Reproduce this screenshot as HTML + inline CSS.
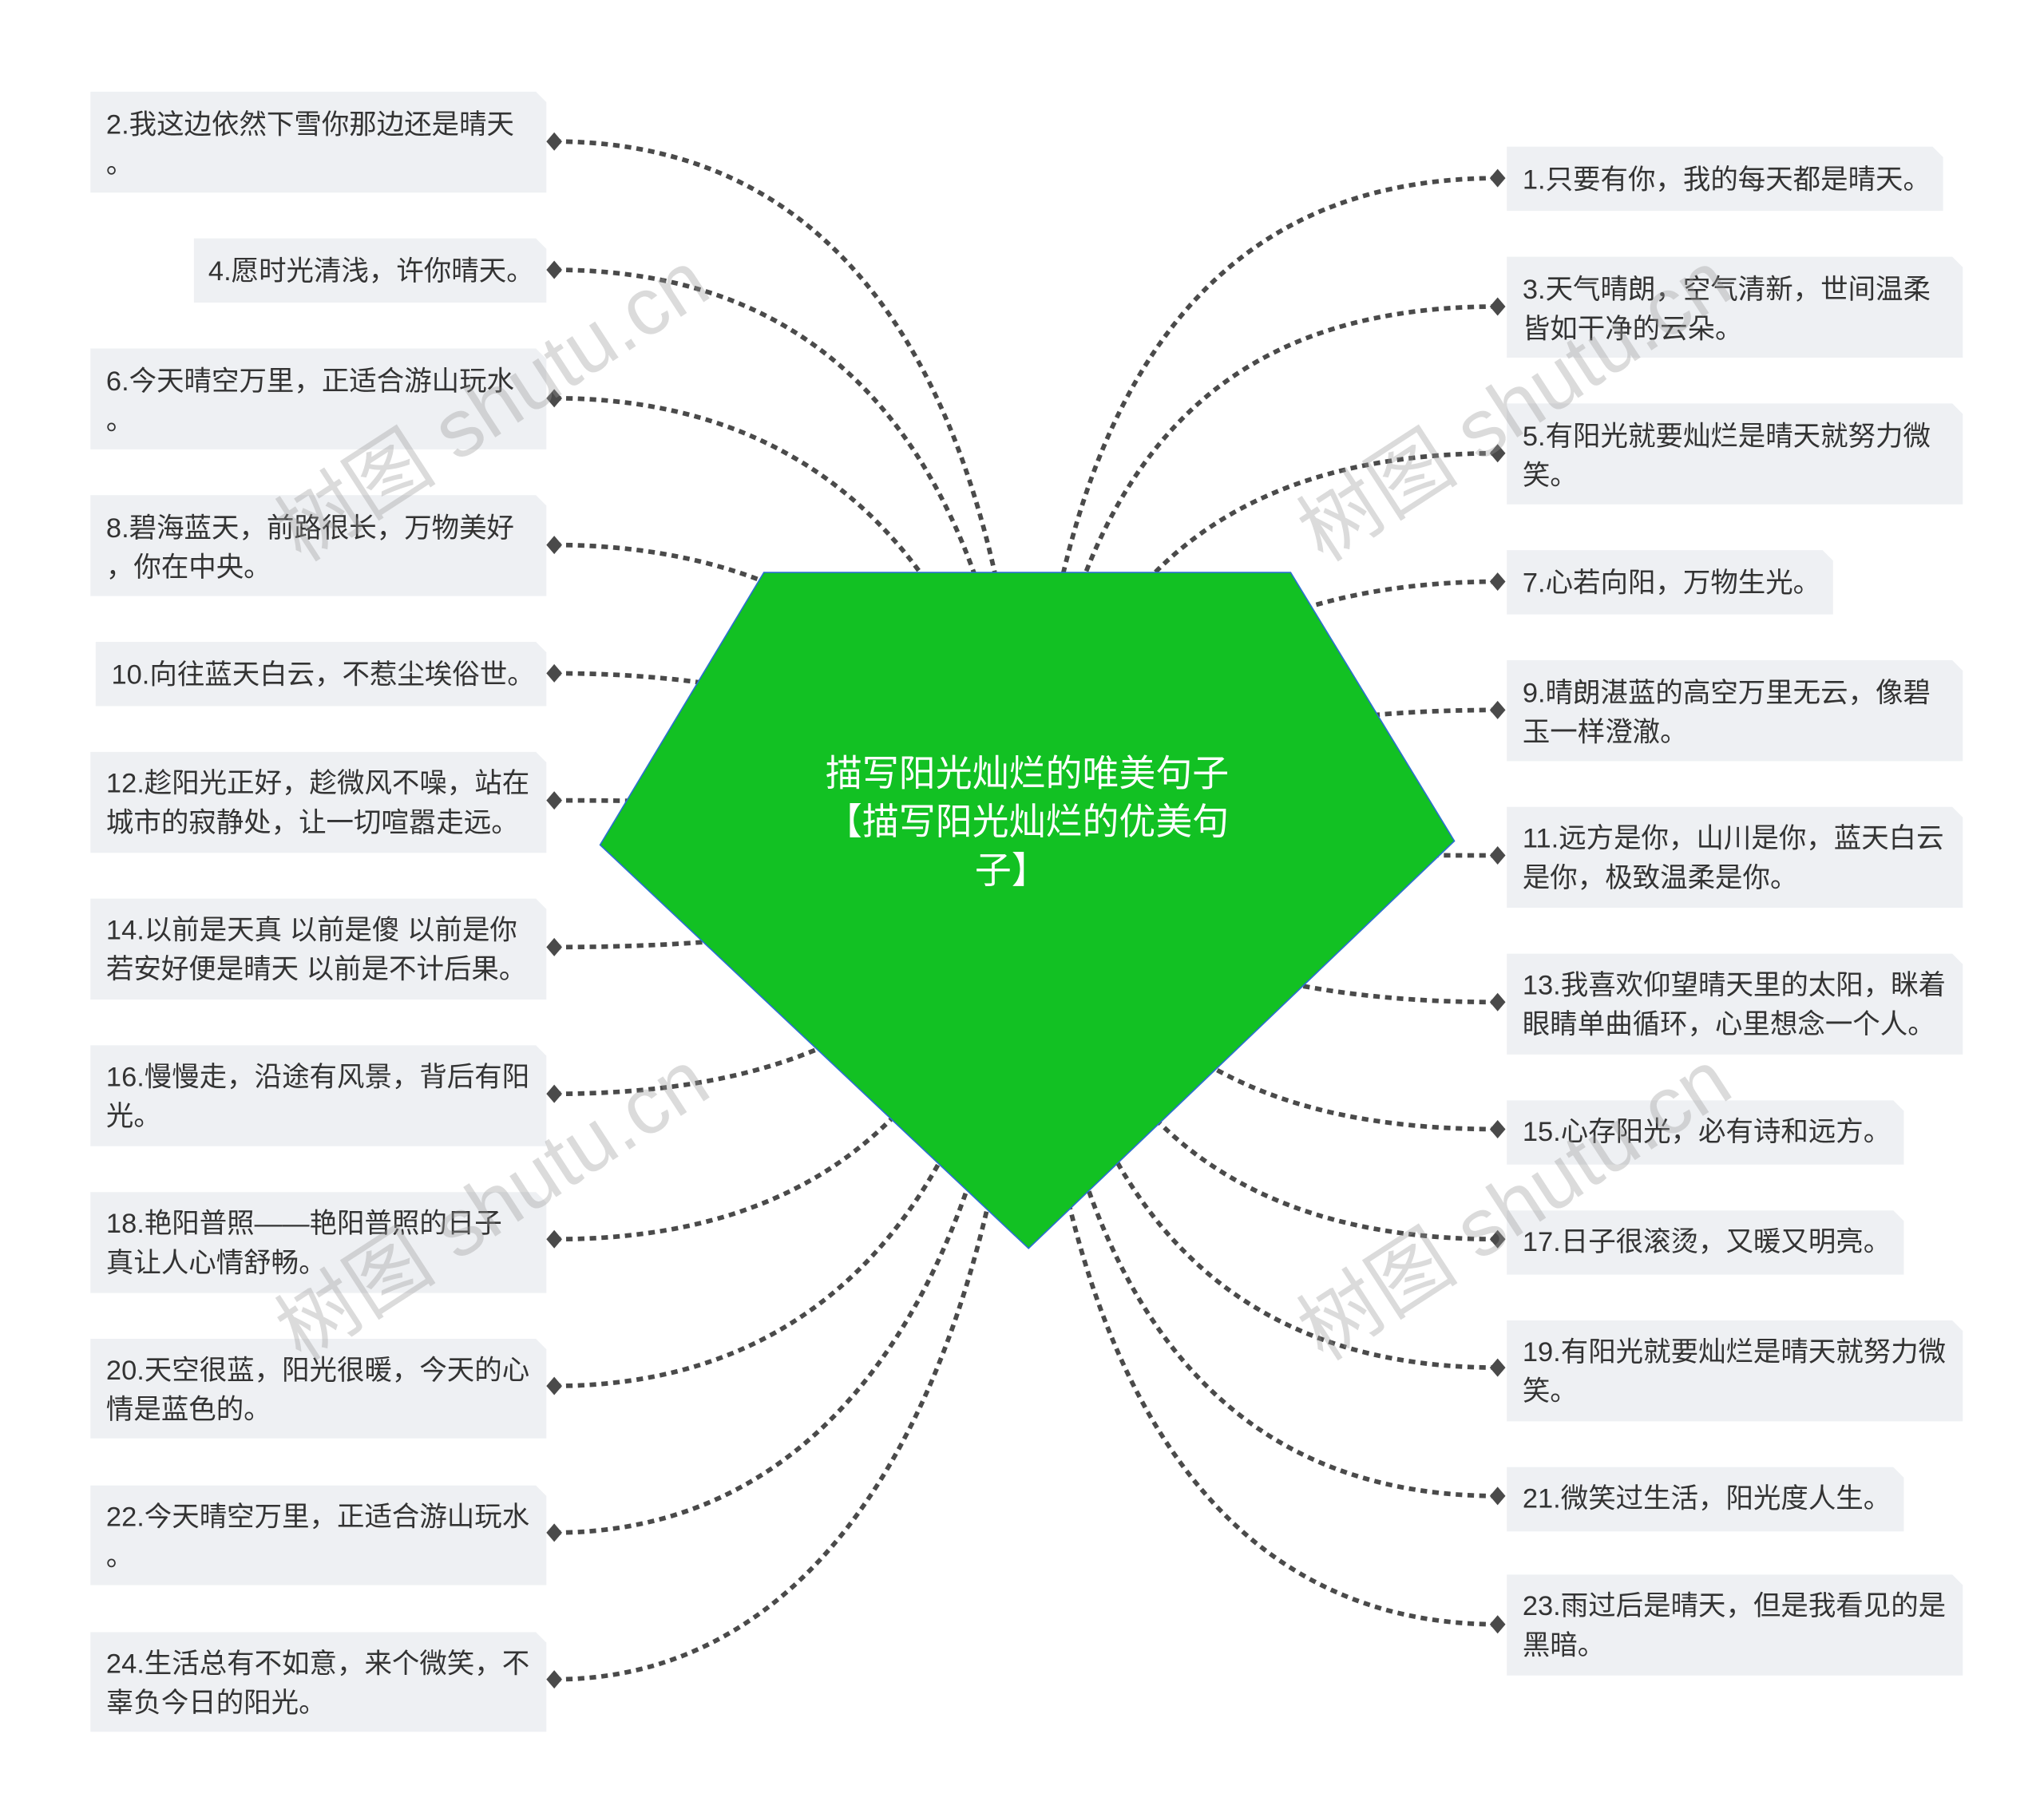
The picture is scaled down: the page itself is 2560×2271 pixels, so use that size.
<!DOCTYPE html>
<html><head><meta charset="utf-8"><style>
html,body{margin:0;padding:0;background:#fff}
svg{display:block}
text{font-family:"Liberation Sans","Noto Sans CJK SC",sans-serif}
</style></head><body>
<svg width="2560" height="2271" viewBox="0 0 1560 1384" preserveAspectRatio="none" xmlns="http://www.w3.org/2000/svg">
<g fill="none" stroke="#4a4a4a" stroke-width="3.5" stroke-dasharray="5 4">
<path d="M423 108 C650 108 770 300 785 645"/>
<path d="M423 206 C640 206 760 350 785 645"/>
<path d="M423 304 C640 304 750 450 785 645"/>
<path d="M423 416 C600 416 720 500 785 645"/>
<path d="M423 514 C600 514 720 560 785 645"/>
<path d="M423 611 C600 611 720 620 785 645"/>
<path d="M423 723 C600 723 720 700 785 645"/>
<path d="M423 835 C600 835 720 780 785 645"/>
<path d="M423 946 C630 946 740 840 785 645"/>
<path d="M423 1058 C640 1058 760 900 785 645"/>
<path d="M423 1170 C650 1170 770 950 785 645"/>
<path d="M423 1282 C660 1282 780 1000 785 645"/>
<path d="M1143 136 C920 136 800 300 785 645"/>
<path d="M1143 234 C930 234 810 350 785 645"/>
<path d="M1143 346 C930 346 820 450 785 645"/>
<path d="M1143 444 C960 444 850 520 785 645"/>
<path d="M1143 542 C960 542 850 580 785 645"/>
<path d="M1143 653 C960 653 850 650 785 645"/>
<path d="M1143 765 C960 765 850 720 785 645"/>
<path d="M1143 862 C960 862 850 800 785 645"/>
<path d="M1143 946 C930 946 820 840 785 645"/>
<path d="M1143 1044 C920 1044 810 900 785 645"/>
<path d="M1143 1142 C910 1142 800 960 785 645"/>
<path d="M1143 1240 C900 1240 790 1000 785 645"/>
</g>
<polygon points="583,437 985,437 1110,642 785,953 458,645" fill="#12c123" stroke="#2a6fd0" stroke-width="1"/>
<g fill="#fff" font-size="28" text-anchor="middle">
<text x="784" y="600">描写阳光灿烂的唯美句子</text>
<text x="784" y="637">【描写阳光灿烂的优美句</text>
<text x="772" y="674">子】</text>
</g>
<g fill="#eef0f3">
<polygon points="69,70 409,70 417,78 417,147 69,147"/>
<polygon points="148,182 409,182 417,190 417,231 148,231"/>
<polygon points="69,266 409,266 417,274 417,343 69,343"/>
<polygon points="69,378 409,378 417,386 417,455 69,455"/>
<polygon points="73,490 409,490 417,498 417,539 73,539"/>
<polygon points="69,574 409,574 417,582 417,651 69,651"/>
<polygon points="69,686 409,686 417,694 417,763 69,763"/>
<polygon points="69,798 409,798 417,806 417,875 69,875"/>
<polygon points="69,910 409,910 417,918 417,987 69,987"/>
<polygon points="69,1022 409,1022 417,1030 417,1098 69,1098"/>
<polygon points="69,1134 409,1134 417,1142 417,1210 69,1210"/>
<polygon points="69,1246 409,1246 417,1254 417,1322 69,1322"/>
<polygon points="1150,112 1475,112 1483,120 1483,161 1150,161"/>
<polygon points="1150,196 1490,196 1498,204 1498,273 1150,273"/>
<polygon points="1150,308 1490,308 1498,316 1498,385 1150,385"/>
<polygon points="1150,420 1391,420 1399,428 1399,469 1150,469"/>
<polygon points="1150,504 1490,504 1498,512 1498,581 1150,581"/>
<polygon points="1150,616 1490,616 1498,624 1498,693 1150,693"/>
<polygon points="1150,728 1490,728 1498,736 1498,805 1150,805"/>
<polygon points="1150,840 1445,840 1453,848 1453,889 1150,889"/>
<polygon points="1150,924 1445,924 1453,932 1453,973 1150,973"/>
<polygon points="1150,1008 1490,1008 1498,1016 1498,1085 1150,1085"/>
<polygon points="1150,1120 1445,1120 1453,1128 1453,1169 1150,1169"/>
<polygon points="1150,1202 1490,1202 1498,1210 1498,1279 1150,1279"/>
</g>
<g fill="#4a4a4a">
<path d="M417 108l6-7 6 7-6 7z"/><path d="M417 206l6-7 6 7-6 7z"/><path d="M417 304l6-7 6 7-6 7z"/><path d="M417 416l6-7 6 7-6 7z"/><path d="M417 514l6-7 6 7-6 7z"/><path d="M417 611l6-7 6 7-6 7z"/><path d="M417 723l6-7 6 7-6 7z"/><path d="M417 835l6-7 6 7-6 7z"/><path d="M417 946l6-7 6 7-6 7z"/><path d="M417 1058l6-7 6 7-6 7z"/><path d="M417 1170l6-7 6 7-6 7z"/><path d="M417 1282l6-7 6 7-6 7z"/>
<path d="M1137 136l6-7 6 7-6 7z"/><path d="M1137 234l6-7 6 7-6 7z"/><path d="M1137 346l6-7 6 7-6 7z"/><path d="M1137 444l6-7 6 7-6 7z"/><path d="M1137 542l6-7 6 7-6 7z"/><path d="M1137 653l6-7 6 7-6 7z"/><path d="M1137 765l6-7 6 7-6 7z"/><path d="M1137 862l6-7 6 7-6 7z"/><path d="M1137 946l6-7 6 7-6 7z"/><path d="M1137 1044l6-7 6 7-6 7z"/><path d="M1137 1142l6-7 6 7-6 7z"/><path d="M1137 1240l6-7 6 7-6 7z"/>
</g>
<g fill="#333" font-size="21">
<text x="81" y="102">2.我这边依然下雪你那边还是晴天</text><text x="81" y="132">。</text>
<text x="159" y="214">4.愿时光清浅，许你晴天。</text>
<text x="81" y="298">6.今天晴空万里，正适合游山玩水</text><text x="81" y="328">。</text>
<text x="81" y="410">8.碧海蓝天，前路很长，万物美好</text><text x="81" y="440">，你在中央。</text>
<text x="85" y="522">10.向往蓝天白云，不惹尘埃俗世。</text>
<text x="81" y="605">12.趁阳光正好，趁微风不噪，站在</text><text x="81" y="635">城市的寂静处，让一切喧嚣走远。</text>
<text x="81" y="717">14.以前是天真 以前是傻 以前是你</text><text x="81" y="747">若安好便是晴天 以前是不计后果。</text>
<text x="81" y="829">16.慢慢走，沿途有风景，背后有阳</text><text x="81" y="859">光。</text>
<text x="81" y="941">18.艳阳普照——艳阳普照的日子</text><text x="81" y="971">真让人心情舒畅。</text>
<text x="81" y="1053">20.天空很蓝，阳光很暖，今天的心</text><text x="81" y="1083">情是蓝色的。</text>
<text x="81" y="1165">22.今天晴空万里，正适合游山玩水</text><text x="81" y="1195">。</text>
<text x="81" y="1277">24.生活总有不如意，来个微笑，不</text><text x="81" y="1307">辜负今日的阳光。</text>
<text x="1162" y="144">1.只要有你，我的每天都是晴天。</text>
<text x="1162" y="228">3.天气晴朗，空气清新，世间温柔</text><text x="1162" y="258">皆如干净的云朵。</text>
<text x="1162" y="340">5.有阳光就要灿烂是晴天就努力微</text><text x="1162" y="370">笑。</text>
<text x="1162" y="452">7.心若向阳，万物生光。</text>
<text x="1162" y="536">9.晴朗湛蓝的高空万里无云，像碧</text><text x="1162" y="566">玉一样澄澈。</text>
<text x="1162" y="647">11.远方是你，山川是你，蓝天白云</text><text x="1162" y="677">是你，极致温柔是你。</text>
<text x="1162" y="759">13.我喜欢仰望晴天里的太阳，眯着</text><text x="1162" y="789">眼睛单曲循环，心里想念一个人。</text>
<text x="1162" y="871">15.心存阳光，必有诗和远方。</text>
<text x="1162" y="955">17.日子很滚烫，又暖又明亮。</text>
<text x="1162" y="1039">19.有阳光就要灿烂是晴天就努力微</text><text x="1162" y="1069">笑。</text>
<text x="1162" y="1151">21.微笑过生活，阳光度人生。</text>
<text x="1162" y="1233">23.雨过后是晴天，但是我看见的是</text><text x="1162" y="1263">黑暗。</text>
</g>
<g fill="#999" fill-opacity="0.35" font-size="62" font-family="Liberation Serif,Noto Serif CJK SC,serif">
<text transform="translate(230,430) rotate(-33)">树图 shutu.cn</text>
<text transform="translate(1010,430) rotate(-33)">树图 shutu.cn</text>
<text transform="translate(230,1040) rotate(-33)">树图 shutu.cn</text>
<text transform="translate(1010,1040) rotate(-33)">树图 shutu.cn</text>
</g>
</svg>
</body></html>
